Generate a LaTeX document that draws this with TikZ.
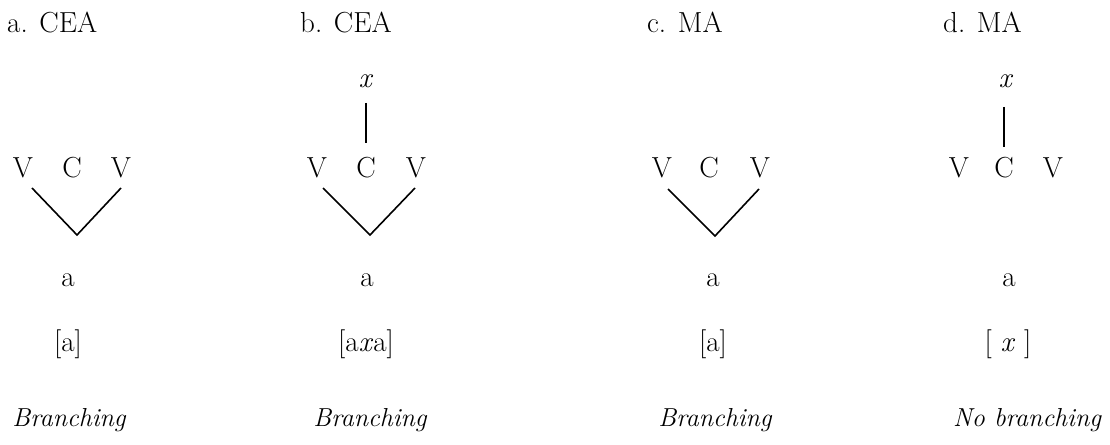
\documentclass[tikz,border=0pt]{standalone}
\usepackage{fontspec}
\begin{document}
\begin{tikzpicture}[x=1pt,y=1pt,
  txt/.style={inner sep=0pt,anchor=base,font=\fontsize{29}{34}\selectfont},
  ttl/.style={inner sep=0pt,anchor=base west,font=\fontsize{29}{34}\selectfont},
  itl/.style={inner sep=0pt,anchor=base,font=\fontsize{26}{32}\selectfont\itshape},
  ln/.style={line width=1.6pt,line join=miter}]
\useasboundingbox (0,0) rectangle (1110,444);
% titles
\node[ttl] (ta) at (7,411) {a. CEA};
\node[ttl] (tb) at (300,411) {b. CEA};
\node[ttl] (tc) at (647,411) {c. MA};
\node[ttl] (td) at (943,411) {d. MA};
% a
\node[txt] (va1) at (23,266) {V};
\node[txt] (ca) at (72,266) {C};
\node[txt] (va2) at (121,266) {V};
\coordinate (la1) at (32,256);
\coordinate (apa) at (77,209);
\coordinate (la2) at (121,256);
\draw[ln] (la1) -- (apa) -- (la2);
\node[txt] (aa) at (68,157) {a};
\node[txt] (ra) at (68,92) {[a]};
\node[itl] (ba) at (69,17) {Branching};
% b
\node[txt] (xb) at (366,356) {\textit{x}};
\coordinate (xbt) at (366,341);
\coordinate (xbb) at (366,301);
\draw[ln] (xbt) -- (xbb);
\node[txt] (vb1) at (317,266) {V};
\node[txt] (cb) at (366,266) {C};
\node[txt] (vb2) at (416,266) {V};
\coordinate (lb1) at (323,256);
\coordinate (apb) at (370,209);
\coordinate (lb2) at (415,256);
\draw[ln] (lb1) -- (apb) -- (lb2);
\node[txt] (ab) at (367,157) {a};
\node[txt] (rb) at (366,92) {[a\textit{x}a]};
\node[itl] (bb) at (370,17) {Branching};
% c
\node[txt] (vc1) at (662,266) {V};
\node[txt] (cc) at (709,266) {C};
\node[txt] (vc2) at (760,266) {V};
\coordinate (lc1) at (668,255);
\coordinate (apc) at (715,208);
\coordinate (lc2) at (759,255);
\draw[ln] (lc1) -- (apc) -- (lc2);
\node[txt] (ac) at (713,157) {a};
\node[txt] (rc) at (713,92) {[a]};
\node[itl] (bc) at (715,17) {Branching};
% d
\node[txt] (xd) at (1006,356) {\textit{x}};
\coordinate (xdt) at (1004,337);
\coordinate (xdb) at (1004,297);
\draw[ln] (xdt) -- (xdb);
\node[txt] (vd1) at (959,266) {V};
\node[txt] (cd) at (1004,266) {C};
\node[txt] (vd2) at (1053,266) {V};
\node[txt] (ad) at (1009,157) {a};
\node[txt] (rd) at (1008,92) {[ \textit{x} ]};
\node[itl] (bd) at (1027,17) {No branching};
\end{tikzpicture}
\end{document}
